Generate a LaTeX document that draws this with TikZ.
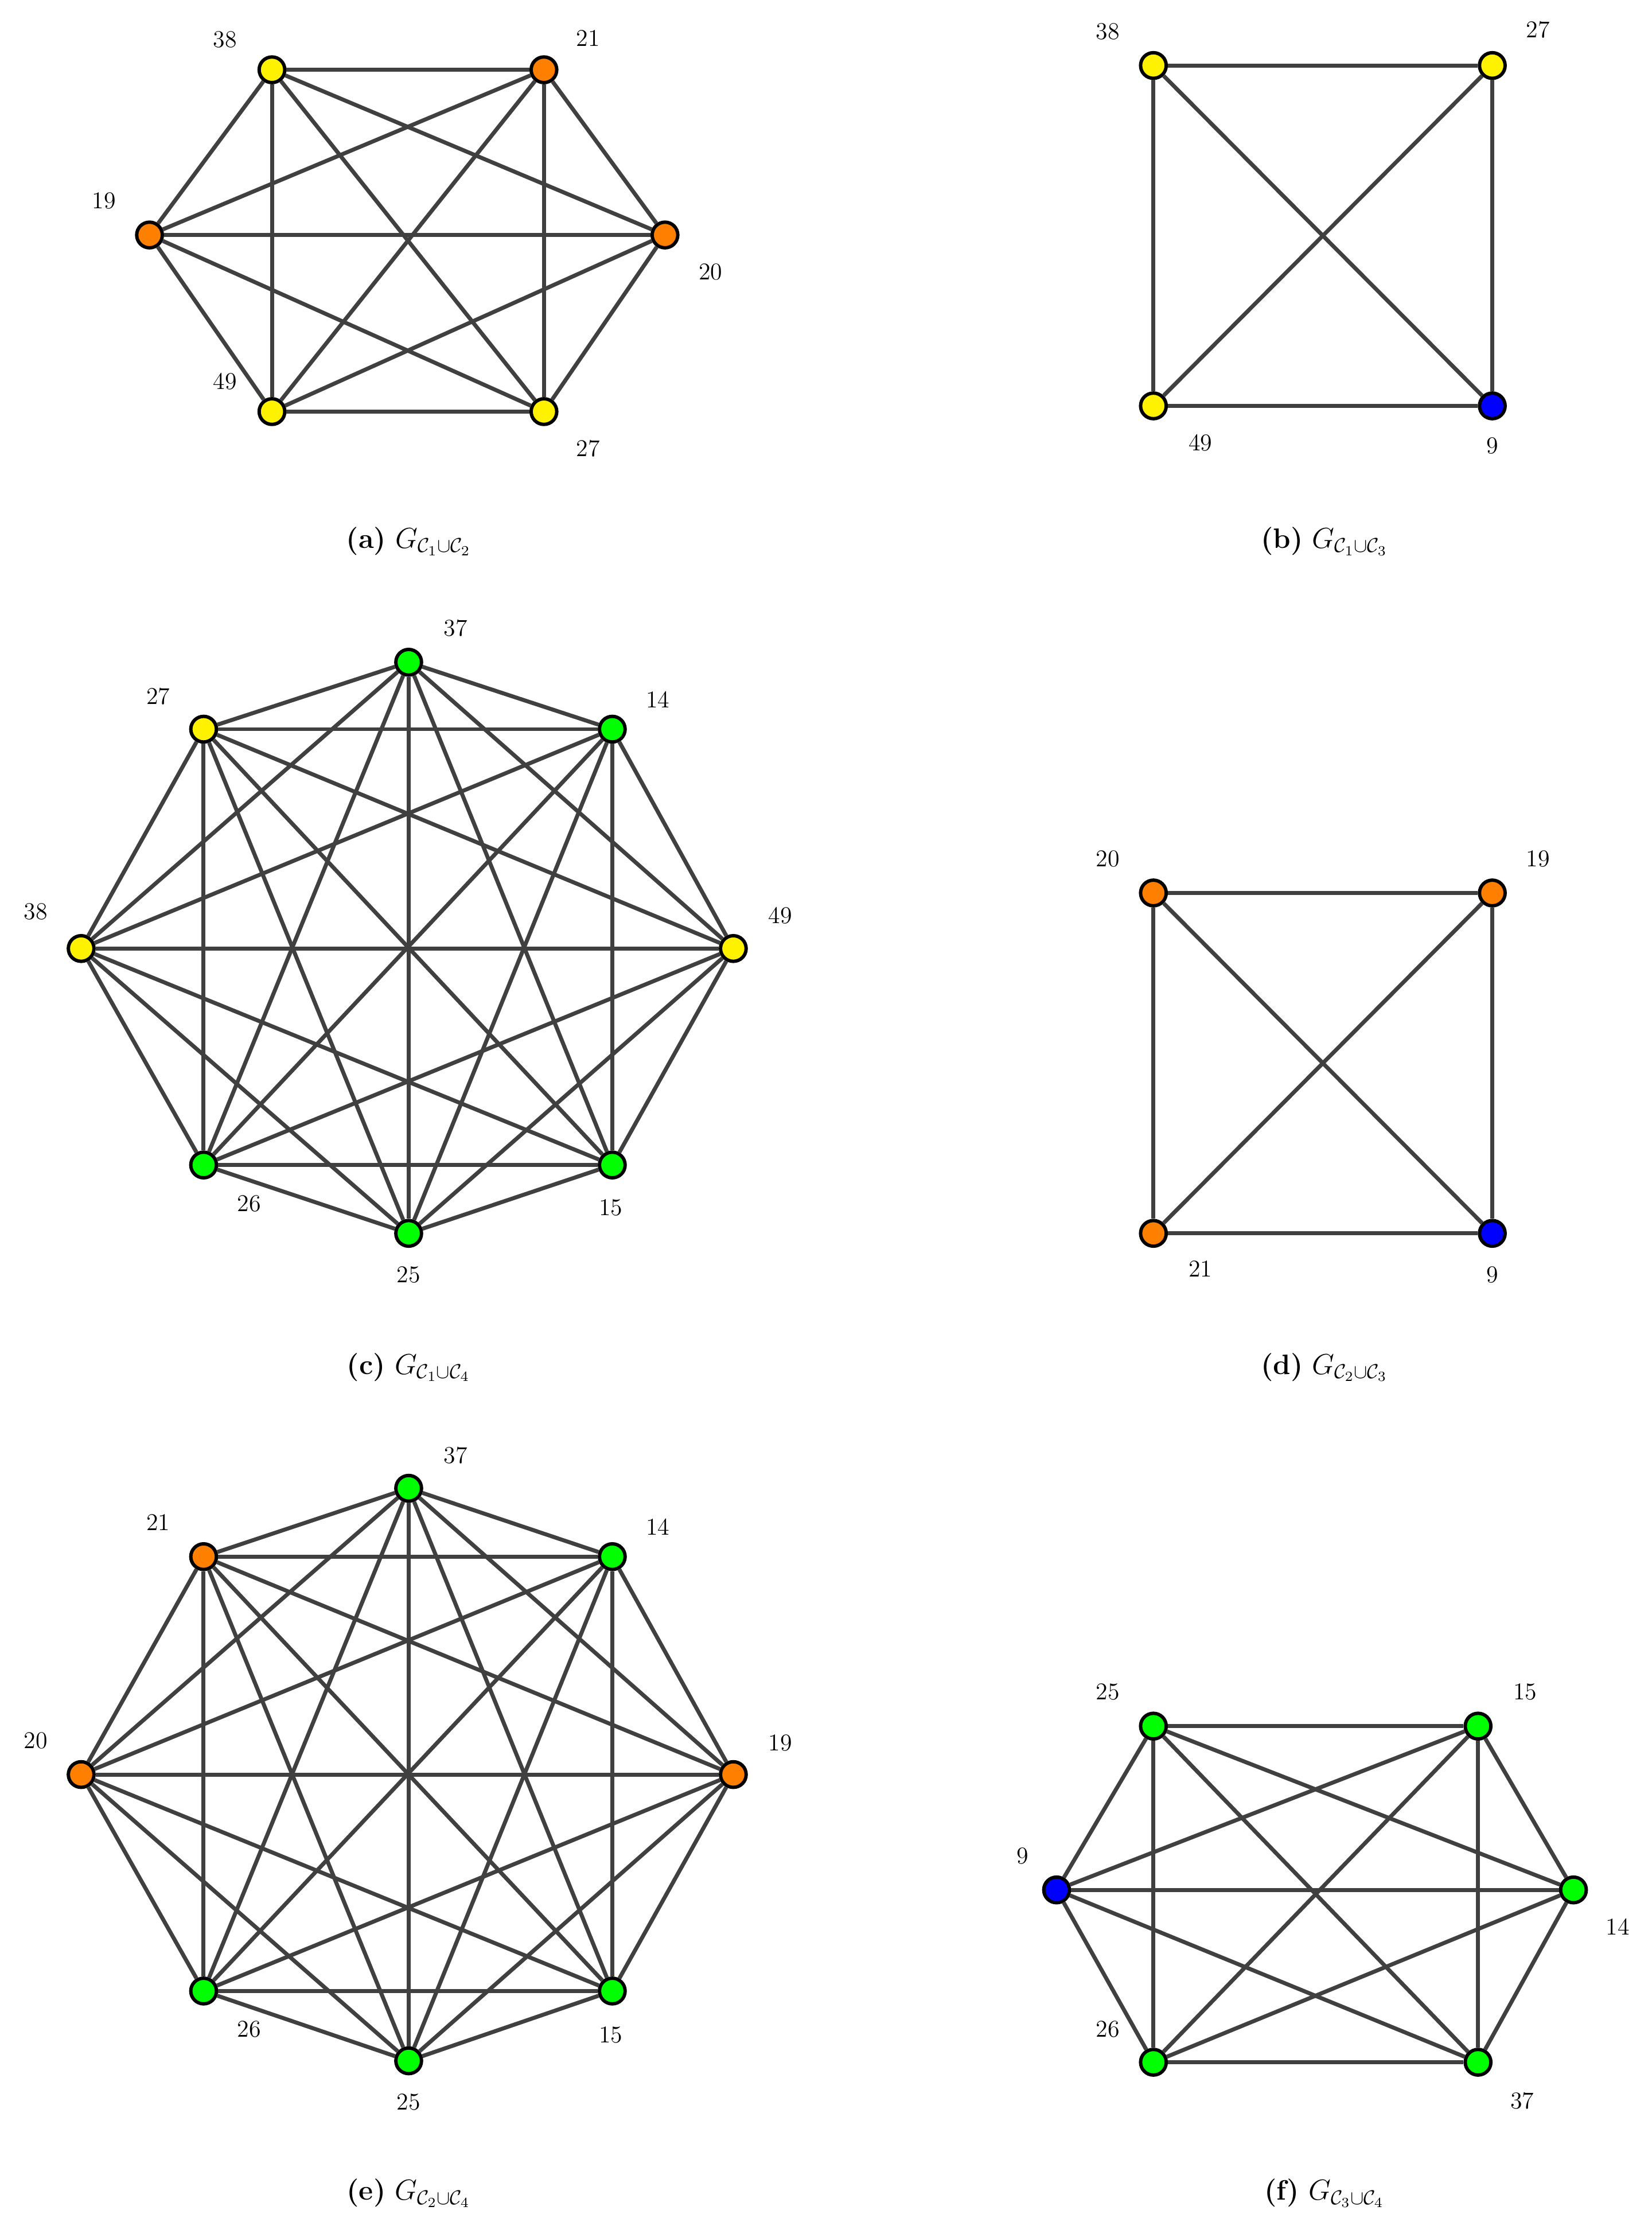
\documentclass[tikz,border=0pt]{standalone}
\usepackage{amsmath,amssymb}
\definecolor{vy}{HTML}{FFF200}
\definecolor{vo}{HTML}{FF7F00}
\definecolor{vg}{HTML}{00FF00}
\definecolor{vb}{HTML}{0000FF}
\definecolor{ed}{HTML}{404040}
\tikzset{v/.style={circle,draw=black,line width=1.7pt,minimum size=0.45cm,inner sep=0pt},
 e/.style={draw=ed,line width=2pt},
 lab/.style={font=\fontsize{12}{14}\selectfont},
 captext/.style={font=\fontsize{14}{16}\selectfont}}
\newcommand{\complete}[1]{%
 \foreach \i [count=\n] in {#1} {\foreach \j [count=\m] in {#1} {\ifnum\m>\n \draw[e] (\i) -- (\j);\fi}}}
\begin{document}
\begin{tikzpicture}[x=0.025cm,y=-0.025cm]
\useasboundingbox (0,0) rectangle (1160,1563);
% (a)
\node[v,fill=vy] (a38) at (191,49) {};
\node[v,fill=vo] (a21) at (382,49) {};
\node[v,fill=vo] (a19) at (105,165) {};
\node[v,fill=vo] (a20) at (467,165) {};
\node[v,fill=vy] (a49) at (191,289) {};
\node[v,fill=vy] (a27) at (382,289) {};
\complete{a38,a21,a20,a27,a49,a19}
\node[lab] (la38) at (158,28) {38};
\node[lab] (la21) at (413,27) {21};
\node[lab] (la19) at (73,141) {19};
\node[lab] (la20) at (499,191) {20};
\node[lab] (la49) at (158,268) {49};
\node[lab] (la27) at (413,315) {27};
\node[captext] (ca) at (287,380) {\textbf{(a)} $G_{\mathcal{C}_1\cup\mathcal{C}_2}$};
% (b)
\node[v,fill=vy] (b38) at (810,46) {};
\node[v,fill=vy] (b27) at (1048,46) {};
\node[v,fill=vy] (b49) at (810,285) {};
\node[v,fill=vb] (b9) at (1048,285) {};
\complete{b38,b27,b9,b49}
\node[lab] (lb38) at (778,22) {38};
\node[lab] (lb27) at (1080,21) {27};
\node[lab] (lb49) at (843,311) {49};
\node[lab] (lb9) at (1048,313) {9};
\node[captext] (cb) at (930,380) {\textbf{(b)} $G_{\mathcal{C}_1\cup\mathcal{C}_3}$};
% (c)
\node[v,fill=vg] (c37) at (287,465) {};
\node[v,fill=vg] (c14) at (430,512) {};
\node[v,fill=vy] (c49) at (515,666) {};
\node[v,fill=vg] (c15) at (430,818) {};
\node[v,fill=vg] (c25) at (287,866) {};
\node[v,fill=vg] (c26) at (143,818) {};
\node[v,fill=vy] (c38) at (57,666) {};
\node[v,fill=vy] (c27) at (143,512) {};
\complete{c37,c14,c49,c15,c25,c26,c38,c27}
\node[lab] (lc37) at (320,441) {37};
\node[lab] (lc14) at (462,491) {14};
\node[lab] (lc49) at (548,643) {49};
\node[lab] (lc15) at (429,848) {15};
\node[lab] (lc25) at (287,895) {25};
\node[lab] (lc26) at (175,845) {26};
\node[lab] (lc38) at (25,640) {38};
\node[lab] (lc27) at (111,489) {27};
\node[captext] (cc) at (287,960) {\textbf{(c)} $G_{\mathcal{C}_1\cup\mathcal{C}_4}$};
% (d)
\node[v,fill=vo] (d20) at (810,627) {};
\node[v,fill=vo] (d19) at (1048,627) {};
\node[v,fill=vo] (d21) at (810,866) {};
\node[v,fill=vb] (d9) at (1048,866) {};
\complete{d20,d19,d9,d21}
\node[lab] (ld20) at (778,603) {20};
\node[lab] (ld19) at (1080,603) {19};
\node[lab] (ld21) at (843,891) {21};
\node[lab] (ld9) at (1048,895) {9};
\node[captext] (cd) at (930,960) {\textbf{(d)} $G_{\mathcal{C}_2\cup\mathcal{C}_3}$};
% (e)
\node[v,fill=vg] (e37) at (287,1045) {};
\node[v,fill=vg] (e14) at (430,1093) {};
\node[v,fill=vo] (e19) at (515,1246) {};
\node[v,fill=vg] (e15) at (430,1398) {};
\node[v,fill=vg] (e25) at (287,1447) {};
\node[v,fill=vg] (e26) at (143,1398) {};
\node[v,fill=vo] (e20) at (57,1246) {};
\node[v,fill=vo] (e21) at (143,1093) {};
\complete{e37,e14,e19,e15,e25,e26,e20,e21}
\node[lab] (le37) at (320,1022) {37};
\node[lab] (le14) at (462,1072) {14};
\node[lab] (le19) at (548,1224) {19};
\node[lab] (le15) at (429,1429) {15};
\node[lab] (le25) at (287,1476) {25};
\node[lab] (le26) at (175,1425) {26};
\node[lab] (le20) at (25,1222) {20};
\node[lab] (le21) at (111,1069) {21};
\node[captext] (ce) at (287,1540) {\textbf{(e)} $G_{\mathcal{C}_2\cup\mathcal{C}_4}$};
% (f)
\node[v,fill=vg] (f25) at (810,1212) {};
\node[v,fill=vg] (f15) at (1038,1212) {};
\node[v,fill=vg] (f14) at (1105,1327) {};
\node[v,fill=vg] (f37) at (1038,1448) {};
\node[v,fill=vg] (f26) at (810,1448) {};
\node[v,fill=vb] (f9) at (742,1327) {};
\complete{f25,f15,f14,f37,f26,f9}
\node[lab] (lf25) at (778,1188) {25};
\node[lab] (lf15) at (1071,1188) {15};
\node[lab] (lf14) at (1136,1353) {14};
\node[lab] (lf37) at (1069,1475) {37};
\node[lab] (lf26) at (778,1425) {26};
\node[lab] (lf9) at (718,1303) {9};
\node[captext] (cf) at (930,1540) {\textbf{(f)} $G_{\mathcal{C}_3\cup\mathcal{C}_4}$};
\end{tikzpicture}
\end{document}
